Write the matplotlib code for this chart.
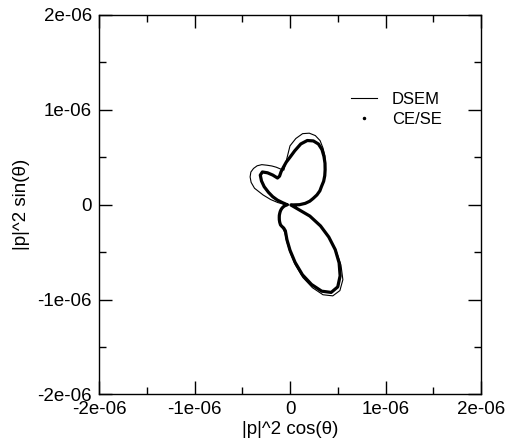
import matplotlib
matplotlib.use("Agg")
import matplotlib.pyplot as plt
from matplotlib.lines import Line2D
from matplotlib.ticker import MultipleLocator
import numpy as np

plt.rcParams['font.family'] = ['Liberation Sans', 'DejaVu Sans']

# angle grid (degrees) and |p|^2, in units of 1e-6
theta_deg = np.arange(-180, 180, 5)

dsem_r = [0.04, 0.05, 0.06, 0.07, 0.085, 0.10, 0.115, 0.13, 0.145, 0.16,
          0.175, 0.195, 0.215, 0.235, 0.25, 0.27, 0.305, 0.39, 0.50, 0.635,
          0.78, 0.905, 1.01, 1.06, 1.045, 0.965, 0.83, 0.68, 0.53, 0.39,
          0.24, 0.02,
          0.01, 0.01, 0.01, 0.03, 0.10, 0.16, 0.21,
          0.25, 0.30, 0.345, 0.38, 0.43, 0.475, 0.52, 0.575, 0.635, 0.69,
          0.745, 0.775, 0.78, 0.76, 0.70, 0.62, 0.46, 0.37, 0.39, 0.42,
          0.45, 0.48, 0.515, 0.535, 0.54, 0.535, 0.51, 0.47, 0.41, 0.30,
          0.21, 0.13, 0.07]

cese_r = [0.03, 0.04, 0.05, 0.065, 0.08, 0.095, 0.11, 0.125, 0.14, 0.158,
          0.175, 0.195, 0.215, 0.235, 0.245, 0.255, 0.28, 0.37, 0.48, 0.61,
          0.75, 0.87, 0.97, 1.02, 1.00, 0.915, 0.80, 0.67, 0.53, 0.39,
          0.24, 0.02,
          0.01, 0.01, 0.01, 0.03, 0.10, 0.16, 0.21,
          0.25, 0.30, 0.345, 0.38, 0.43, 0.475, 0.52, 0.57, 0.62, 0.67,
          0.705, 0.715, 0.70, 0.65, 0.57, 0.50, 0.45, 0.40, 0.36, 0.32,
          0.31, 0.36, 0.41, 0.45, 0.44, 0.39, 0.33, 0.26, 0.20, 0.14,
          0.08, 0.05, 0.04]


def to_xy(r_list):
    th = np.radians(np.append(theta_deg, theta_deg[0]))
    r = np.append(r_list, r_list[0]) * 1e-6
    return r * np.cos(th), r * np.sin(th)


fig = plt.figure(figsize=(5.09, 4.44), dpi=100)
ax = fig.add_axes([0.1945, 0.1115, 0.7505, 0.855])

x, y = to_xy(dsem_r)
ax.plot(x, y, color="black", lw=0.8)
x, y = to_xy(cese_r)
ax.plot(x, y, color="black", lw=2.3, solid_capstyle="round")

ax.set_xlim(-2e-6, 2e-6)
ax.set_ylim(-2e-6, 2e-6)
ticks = [-2e-6, -1e-6, 0, 1e-6, 2e-6]
tick_labels = ["-2e-06", "-1e-06", "0", "1e-06", "2e-06"]
ax.set_xticks(ticks)
ax.set_xticklabels(tick_labels)
ax.set_yticks(ticks)
ax.set_yticklabels(tick_labels)
ax.xaxis.set_minor_locator(MultipleLocator(0.5e-6))
ax.yaxis.set_minor_locator(MultipleLocator(0.5e-6))
ax.tick_params(which="both", direction="in", top=True, right=True,
               labelsize=13.5, width=1.0, pad=5)
ax.tick_params(which="major", length=9.4)
ax.tick_params(which="minor", length=5)
for sp in ax.spines.values():
    sp.set_linewidth(1.0)

ax.set_xlabel("|p|^2 cos(\u03b8)", fontsize=13.5, labelpad=2)
ax.set_ylabel("|p|^2 sin(\u03b8)", fontsize=13.5, labelpad=5)

handles = [Line2D([], [], color="black", lw=0.8),
           Line2D([], [], color="black", marker=".", markersize=3, linestyle="none")]
ax.legend(handles, ["DSEM", "CE/SE"], frameon=False, loc="upper left",
          bbox_to_anchor=(0.659, 0.797), borderaxespad=0, borderpad=0,
          handlelength=1.56, handletextpad=0.9, labelspacing=0.3, fontsize=12)

fig.savefig("out.png", dpi=100)
